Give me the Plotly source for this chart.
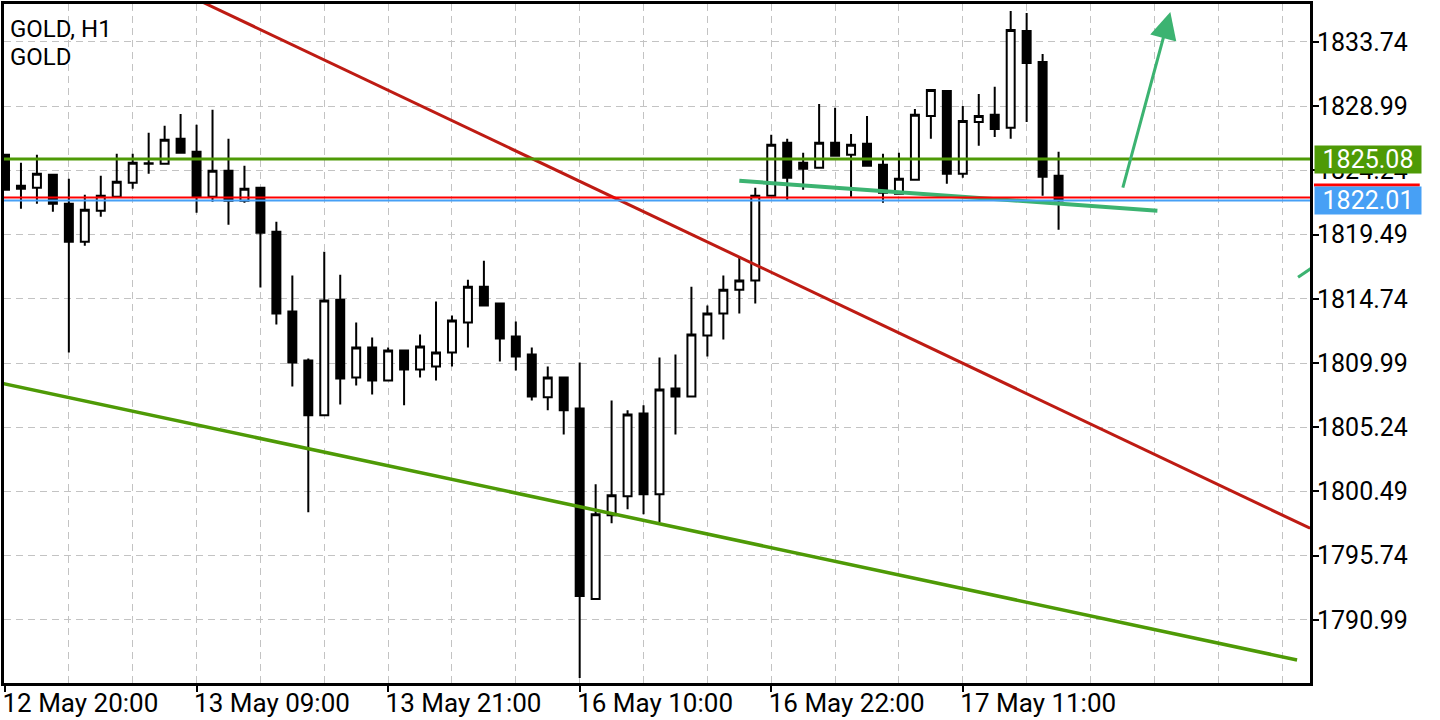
import plotly.graph_objects as go

# ---- data (GOLD, H1) ----
candle_idx = list(range(67))
open_ = [1825.39, 1823.10, 1822.96, 1823.92, 1821.77, 1818.97, 1821.26, 1822.29, 1823.33, 1824.77,
         1824.73, 1826.58, 1825.62, 1822.29, 1824.21, 1822.00, 1822.96, 1819.71, 1813.80, 1810.18,
         1806.12, 1814.68, 1808.92, 1811.14, 1808.70, 1810.92, 1809.51, 1809.74, 1810.77, 1812.99,
         1815.64, 1814.39, 1811.95, 1810.62, 1807.45, 1808.92, 1806.63, 1792.53, 1798.73, 1800.13,
         1806.26, 1800.28, 1808.11, 1807.52, 1812.03, 1813.65, 1815.42, 1816.09, 1822.37, 1826.28,
         1824.80, 1824.43, 1826.28, 1825.39, 1826.21, 1824.65, 1822.51, 1823.55, 1828.27, 1830.12,
         1823.99, 1827.83, 1828.35, 1827.39, 1834.55, 1832.26, 1823.84]
high = [1825.47, 1824.80, 1825.39, 1823.95, 1823.62, 1822.44, 1823.84, 1825.47, 1825.47, 1827.02,
        1827.54, 1828.42, 1827.61, 1828.72, 1826.58, 1824.58, 1822.98, 1820.45, 1816.46, 1810.33,
        1818.23, 1816.53, 1812.99, 1811.88, 1811.14, 1810.99, 1812.10, 1814.54, 1813.50, 1816.16,
        1817.56, 1814.41, 1813.06, 1811.14, 1809.74, 1808.95, 1810.03, 1801.02, 1807.22, 1806.49,
        1806.86, 1810.40, 1810.62, 1815.64, 1814.24, 1816.46, 1817.79, 1822.96, 1826.87, 1826.58,
        1825.54, 1829.16, 1828.87, 1826.94, 1828.27, 1825.47, 1825.54, 1828.79, 1830.22, 1830.15,
        1829.01, 1829.90, 1830.42, 1836.03, 1835.88, 1832.85, 1825.62]
low = [1822.75, 1821.41, 1821.77, 1821.18, 1810.77, 1818.67, 1820.81, 1822.25, 1822.88, 1823.99,
       1824.70, 1825.52, 1821.11, 1821.92, 1820.22, 1821.85, 1815.57, 1812.84, 1808.26, 1798.95,
       1806.08, 1806.93, 1808.33, 1807.67, 1808.67, 1806.86, 1808.92, 1808.70, 1809.74, 1811.14,
       1814.17, 1810.10, 1809.44, 1807.22, 1806.49, 1804.71, 1786.69, 1792.50, 1798.14, 1799.17,
       1798.80, 1798.21, 1804.71, 1807.45, 1810.47, 1811.73, 1813.65, 1814.39, 1822.29, 1822.07,
       1822.81, 1824.40, 1825.25, 1822.29, 1824.55, 1821.85, 1822.48, 1823.52, 1826.58, 1823.25,
       1823.69, 1826.06, 1826.72, 1826.58, 1827.83, 1822.37, 1819.85]
close = [1822.81, 1822.88, 1823.99, 1821.77, 1818.97, 1821.33, 1822.37, 1823.40, 1824.80, 1824.73,
         1826.50, 1825.54, 1822.29, 1824.21, 1822.00, 1822.88, 1819.63, 1813.65, 1810.03, 1806.12,
         1814.61, 1808.85, 1811.14, 1808.70, 1810.92, 1809.51, 1811.21, 1810.77, 1813.13, 1815.64,
         1814.24, 1811.80, 1810.47, 1807.52, 1808.92, 1806.49, 1792.75, 1798.80, 1800.21, 1806.19,
         1800.28, 1808.04, 1807.52, 1812.10, 1813.65, 1815.42, 1816.09, 1822.37, 1826.13, 1823.69,
         1824.36, 1826.28, 1825.32, 1826.13, 1824.58, 1822.59, 1823.62, 1828.35, 1830.19, 1823.99,
         1827.90, 1828.27, 1827.31, 1834.63, 1832.19, 1823.77, 1822.01]

tick_idx = [0, 12, 24, 36, 48, 60]
tick_text = ["12 May 20:00", "13 May 09:00", "13 May 21:00", "16 May 10:00", "16 May 22:00", "17 May 11:00"]
price_ticks = [1833.74, 1828.99, 1824.24, 1819.49, 1814.74, 1809.99, 1805.24, 1800.49, 1795.74, 1790.99]

level_price = 1825.08
bid_price = 1822.01
ask_price = 1822.23

# drawn objects (bar index, price)
red_trend_x = [10.0, 81.75]
red_trend_y = [1838.02, 1797.77]
green_trend_x = [-1.0, 80.94]
green_trend_y = [1808.70, 1788.02]
short_line_x = [46.0, 72.19]
short_line_y = [1823.47, 1821.26]
arrow_from = (70.0, 1822.86)
arrow_to = (73.0, 1835.96)
stub_x = [81.0, 82.4]
stub_y = [1816.33, 1817.47]

FONT = "Roboto"
GRID = "#c3c3c3"
GREEN = "#4E9A06"
BLUE = "#47A0F5"
SEA = "#3CB371"
DRED = "#BE1B13"

fig = go.Figure()
fig.add_trace(go.Candlestick(
    x=candle_idx, open=open_, high=high, low=low, close=close,
    increasing=dict(line=dict(color="black", width=2), fillcolor="white"),
    decreasing=dict(line=dict(color="black", width=2), fillcolor="black"),
    whiskerwidth=0, showlegend=False, hoverinfo="skip",
))
fig.add_trace(go.Scatter(x=red_trend_x, y=red_trend_y, mode="lines",
                         line=dict(color=DRED, width=3), showlegend=False, hoverinfo="skip"))
fig.add_trace(go.Scatter(x=green_trend_x, y=green_trend_y, mode="lines",
                         line=dict(color=GREEN, width=3.5), showlegend=False, hoverinfo="skip"))
fig.add_trace(go.Scatter(x=short_line_x, y=short_line_y, mode="lines",
                         line=dict(color=SEA, width=4), showlegend=False, hoverinfo="skip"))
fig.add_trace(go.Scatter(x=stub_x, y=stub_y, mode="lines",
                         line=dict(color=SEA, width=3), showlegend=False, hoverinfo="skip"))

PLOT_W = 1309
shapes = [
    dict(type="line", xref="paper", x0=0, x1=1, yref="y", y0=level_price, y1=level_price,
         line=dict(color=GREEN, width=3), layer="above"),
    dict(type="line", xref="paper", x0=0, x1=1, yref="y", y0=ask_price, y1=ask_price,
         line=dict(color="#FF0000", width=2), layer="above"),
    dict(type="line", xref="paper", x0=0, x1=1, yref="y", y0=bid_price, y1=bid_price,
         line=dict(color=BLUE, width=2), layer="above"),
    dict(type="rect", xref="paper", x0=1 + 4 / PLOT_W, x1=1 + 110 / PLOT_W,
         yref="y", ysizemode="pixel", yanchor=bid_price, y0=14, y1=17,
         line=dict(width=0), fillcolor="#FF0000", layer="above"),
]

annotations = [
    dict(x=arrow_to[0], y=arrow_to[1], ax=arrow_from[0], ay=arrow_from[1],
         xref="x", yref="y", axref="x", ayref="y", text="", showarrow=True,
         arrowhead=2, arrowsize=1.8, arrowwidth=3, arrowcolor=SEA, standoff=0),
    dict(xref="paper", x=1, xanchor="left", xshift=4, yref="y", y=level_price, yanchor="middle",
         text=f"{level_price:.2f}", showarrow=False, bgcolor=GREEN, width=106, height=27,
         borderpad=0, font=dict(family=FONT, size=25, color="white")),
    dict(xref="paper", x=1, xanchor="left", xshift=4, yref="y", y=bid_price, yanchor="middle",
         text=f"{bid_price:.2f}", showarrow=False, bgcolor=BLUE, width=106, height=27,
         borderpad=0, font=dict(family=FONT, size=25, color="white")),
    dict(xref="paper", x=0, xanchor="left", xshift=4, yref="paper", y=1, yanchor="top", yshift=-9,
         text="GOLD, H1", showarrow=False, font=dict(family=FONT, size=24, color="black")),
    dict(xref="paper", x=0, xanchor="left", xshift=4, yref="paper", y=1, yanchor="top", yshift=-37,
         text="GOLD", showarrow=False, font=dict(family=FONT, size=24, color="black")),
]

fig.update_layout(
    width=1440, height=720,
    margin=dict(l=1, r=130, t=2, b=37),
    paper_bgcolor="white", plot_bgcolor="white",
    boxgap=0.5, boxgroupgap=0,
    shapes=shapes, annotations=annotations,
    font=dict(family=FONT, size=24, color="black"),
    showlegend=False,
)
fig.update_xaxes(
    range=[-0.0625, 81.75], rangeslider=dict(visible=False),
    tickmode="array", tickvals=tick_idx, ticktext=tick_text,
    ticks="outside", ticklen=6, tickwidth=2, tickcolor="black",
    ticklabelposition="outside right", ticklabelshift=-5, ticklabelstandoff=-5,
    ticklabeloverflow="allow",
    tickfont=dict(family=FONT, size=26, color="black"),
    showgrid=True, gridcolor=GRID, gridwidth=1.2, griddash="7px,5px",
    minor=dict(tick0=0, dtick=4, showgrid=True, gridcolor=GRID, gridwidth=1.2,
               griddash="7px,5px", ticks=""),
    showline=True, linecolor="black", linewidth=3, mirror=True, zeroline=False,
)
fig.update_yaxes(
    range=[1786.32, 1836.55], side="right",
    tickmode="array", tickvals=price_ticks, ticktext=[f"{v:.2f}" for v in price_ticks],
    ticks="outside", ticklen=6, tickwidth=2, tickcolor="black", ticklabelstandoff=-7,
    tickfont=dict(family=FONT, size=25, color="black"),
    showgrid=True, gridcolor=GRID, gridwidth=1.2, griddash="7px,5px",
    showline=True, linecolor="black", linewidth=3, mirror=True, zeroline=False,
)

fig.write_html("out.html", config={"displayModeBar": False},
               post_script="document.body.style.margin='0';")
